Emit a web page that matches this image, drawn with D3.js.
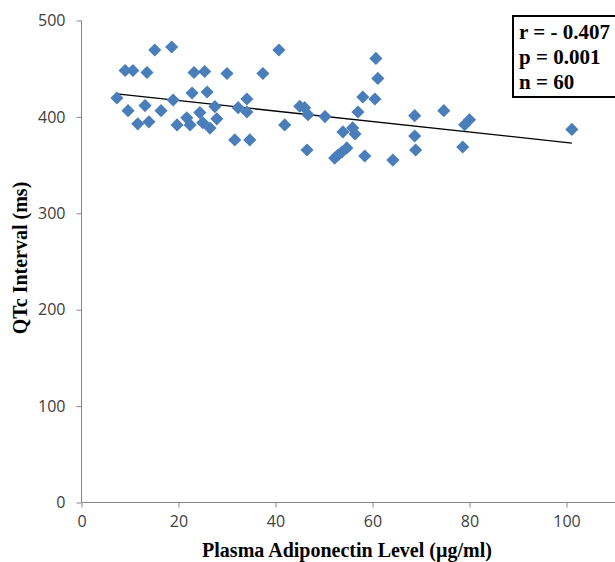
<!DOCTYPE html>
<html>
<head>
<meta charset="utf-8">
<script src="https://cdn.jsdelivr.net/npm/d3@7"></script>
<style>
  html, body { margin: 0; padding: 0; background: #fff; }
  svg { display: block; }
</style>
</head>
<body>
<svg id="chart" width="615" height="562"></svg>
<script>
// ---- data ----
const adiponectin = [7.3, 9.0, 10.6, 13.5, 9.6, 13.1, 11.6, 13.9, 15.1, 16.4,
  18.6, 18.9, 19.7, 21.7, 22.4, 22.8, 23.2, 24.4, 25.0, 25.4,
  25.9, 26.5, 27.5, 27.9, 30.0, 31.6, 32.3, 34.1, 34.1, 34.7,
  37.4, 40.7, 41.9, 45.0, 46.0, 46.7, 46.5, 50.2, 52.2, 53.7,
  54.7, 53.9, 55.9, 56.4, 57.0, 58.0, 58.4, 60.5, 60.7, 61.1,
  64.2, 68.7, 68.7, 68.9, 74.7, 78.6, 79.0, 80.0, 101.1, 52.9];
const qtc = [419.6, 448.1, 448.1, 446.0, 406.5, 411.7, 392.8, 394.9, 469.4, 406.5,
  472.5, 417.5, 391.7, 399.0, 391.7, 424.8, 446.0, 404.5, 394.0, 447.1,
  425.8, 388.4, 410.7, 398.0, 445.0, 376.1, 409.6, 418.6, 405.1, 376.1,
  445.0, 469.4, 391.7, 411.0, 409.6, 402.3, 365.7, 400.3, 357.3, 363.6,
  367.8, 384.4, 388.6, 382.3, 405.1, 420.6, 359.4, 418.6, 460.7, 439.9,
  355.2, 401.3, 380.2, 365.7, 406.5, 368.8, 391.8, 397.0, 387.0, 360.5];
const trendX = [7.3, 101.1];
const trendY = [423.8, 372.9];
const xTicks = [0, 20, 40, 60, 80, 100];
const yTicks = [0, 100, 200, 300, 400, 500];
const statsLines = ["r = - 0.407", "p = 0.001", "n = 60"];
const xTitle = "Plasma Adiponectin Level (\u00b5g/ml)";
const yTitle = "QTc Interval (ms)";

// ---- layout ----
const svg = d3.select("#chart");
const mLeft = 81.5, mRight = 615, mTop = 20.5, mBottom = 502.5;
const x = d3.scaleLinear().domain([0, 110]).range([mLeft, mRight]);
const y = d3.scaleLinear().domain([0, 500]).range([mBottom, mTop]);

const axisColor = "#868686";
const labelFont = "'Open Sans', 'Liberation Sans', sans-serif";
const serif = "'Liberation Serif', 'DejaVu Serif', serif";

// y axis
const yAxis = svg.append("g").attr("transform", `translate(${mLeft},0)`)
  .call(d3.axisLeft(y).tickValues(yTicks).tickSize(5).tickPadding(11).tickFormat(d3.format("d")));
// x axis
const xAxis = svg.append("g").attr("transform", `translate(0,${mBottom})`)
  .call(d3.axisBottom(x).tickValues(xTicks).tickSize(5).tickPadding(8).tickFormat(d3.format("d")));

[yAxis, xAxis].forEach(g => {
  g.select(".domain").attr("stroke", axisColor).attr("stroke-width", 1);
  g.selectAll(".tick line").attr("stroke", axisColor);
  g.selectAll(".tick text").attr("fill", "#404040")
    .style("font-family", labelFont).style("font-size", "16px");
});
yAxis.select(".domain").attr("d", `M0,${mTop}V${mBottom}`);
xAxis.select(".domain").attr("d", `M${mLeft},0H${mRight}`);

// trend line
svg.append("line")
  .attr("x1", x(trendX[0])).attr("y1", y(trendY[0]))
  .attr("x2", x(trendX[1])).attr("y2", y(trendY[1]))
  .attr("stroke", "#000").attr("stroke-width", 1.3);

// points (diamonds)
const sym = d3.symbol().type(d3.symbolDiamond2).size(110);
svg.append("g").selectAll("path")
  .data(adiponectin.map((v, i) => [v, qtc[i]]))
  .join("path")
  .attr("d", sym)
  .attr("transform", d => `translate(${x(d[0])},${y(d[1])})`)
  .attr("fill", "#4A7EBB");

// axis titles
svg.append("text")
  .attr("x", 347).attr("y", 557)
  .attr("text-anchor", "middle")
  .style("font-family", serif).style("font-weight", "bold").style("font-size", "20px")
  .attr("fill", "#000")
  .text(xTitle);

svg.append("text")
  .attr("transform", `translate(27,258) rotate(-90)`)
  .attr("text-anchor", "middle")
  .style("font-family", serif).style("font-weight", "bold").style("font-size", "20px")
  .attr("fill", "#000")
  .text(yTitle);

// stats box
svg.append("rect")
  .attr("x", 513).attr("y", 16).attr("width", 110).attr("height", 81)
  .attr("fill", "#fff").attr("stroke", "#000").attr("stroke-width", 2);
svg.append("g").selectAll("text")
  .data(statsLines).join("text")
  .attr("x", 519).attr("y", (d, i) => 39 + i * 25)
  .style("font-family", serif).style("font-weight", "bold").style("font-size", "21px")
  .attr("fill", "#000")
  .text(d => d);
</script>
</body>
</html>
